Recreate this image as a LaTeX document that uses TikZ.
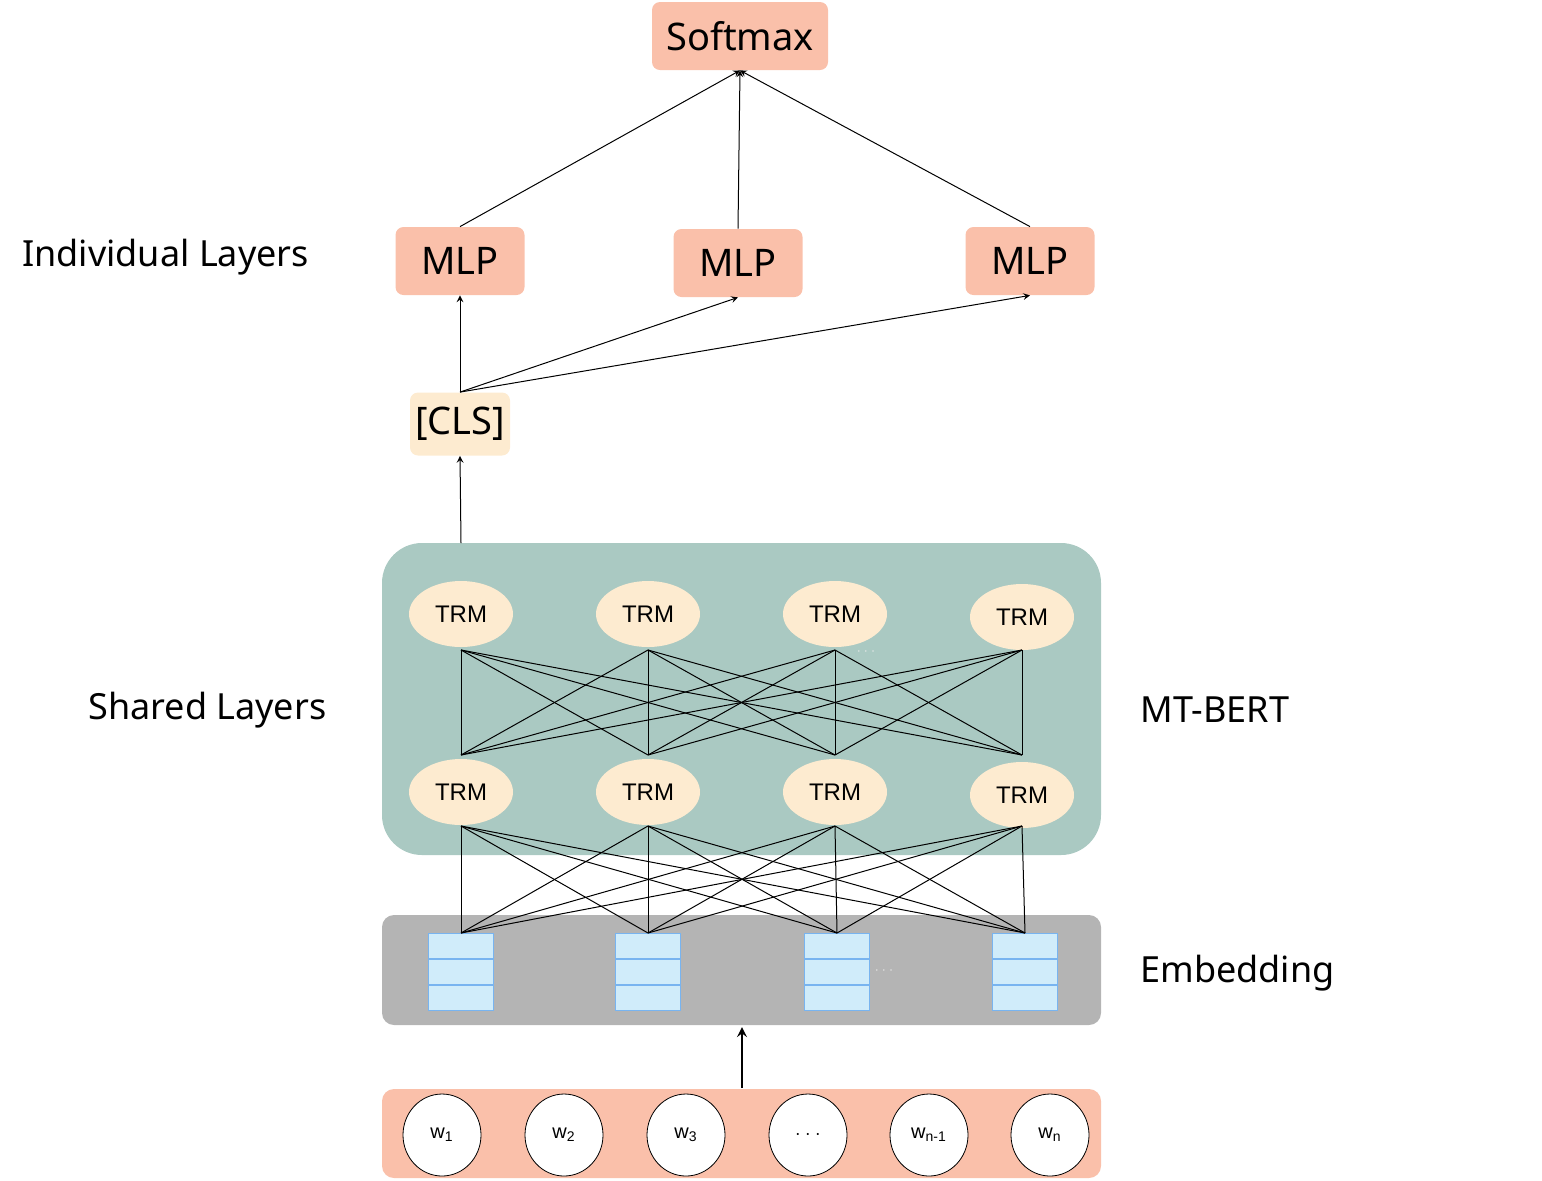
\documentclass[tikz,border=0pt]{standalone}
\usepackage{fontspec}
\setmainfont{Noto Sans}
\setsansfont{Liberation Sans}
\usetikzlibrary{positioning, arrows, shapes.geometric}
\definecolor{salmon}{RGB}{250,192,170}
\definecolor{cream}{RGB}{253,235,208}
\definecolor{teal}{RGB}{170,201,194}
\definecolor{embgray}{RGB}{180,180,180}
\definecolor{cellfill}{RGB}{208,236,250}
\definecolor{celldraw}{RGB}{120,180,240}

\begin{document}
\begin{tikzpicture}[
        x=0.5pt,
        y=-0.5pt,
        >=stealth,
        every node/.style={inner sep=0pt},
        box/.style={fill=salmon, rounded corners=4pt, font=\fontsize{19}{20}\selectfont},
        trm/.style={ellipse, fill=cream, minimum width=52pt, minimum height=33pt, font=\sffamily\fontsize{12}{12}\selectfont},
        word/.style={ellipse, draw, fill=white, minimum width=39pt, minimum height=41pt, font=\sffamily\fontsize{10}{10}\selectfont},
        cell/.style={draw=celldraw, fill=cellfill, minimum width=32.5pt, minimum height=12.8pt},
        side/.style={anchor=west, font=\fontsize{18}{20}\selectfont},
        dots/.style={text=white!85!gray, font=\fontsize{6}{6}\selectfont}
    ]
    \useasboundingbox (0,0) rectangle (1542,1180);

    % backgrounds
    \fill[teal, rounded corners=20pt] (382,543) rectangle (1101,855);
    \fill[embgray, rounded corners=6pt] (382,915) rectangle (1101,1025);
    \fill[salmon, rounded corners=6pt] (382,1089) rectangle (1101,1178);

    % top part
    \node[box, minimum width=88pt, minimum height=34pt] (softmax) at (740,36) {Softmax};
    \node[box, minimum width=64.5pt, minimum height=34pt] (mlp1) at (460,261) {MLP};
    \node[box, minimum width=64.5pt, minimum height=34pt] (mlp2) at (738,263) {MLP};
    \node[box, minimum width=64.5pt, minimum height=34pt] (mlp3) at (1030,261) {MLP};
    \node[box, fill=cream, minimum width=50pt, minimum height=31.5pt] (cls) at (460,424) {[CLS]};

    \node[side] (indiv) at (22,257) {Individual Layers};
    \node[side] (shared) at (88,710) {Shared Layers};
    \node[side] (mtbert) at (1140,710) {MT-BERT};
    \node[side] (embed) at (1140,973) {Embedding};

    % transformer layers
    \foreach \i/\x/\d in {1/461/0,2/648/0,3/835/0,4/1022/3} {
        \node[trm] (top\i) at (\x,614+\d) {TRM};
        \node[trm] (bot\i) at (\x,792+\d) {TRM};
        \coordinate (ta\i) at (\x,650);
        \coordinate (tb\i) at (\x,755);
        \coordinate (ba\i) at (\x,826);
    }
    \node[dots] (dotsa) at (866,652) {$\cdots$};

    % embedding columns
    \foreach \i/\x in {1/461,2/648,3/837,4/1025} {
        \node[cell] (c\i a) at (\x,946) {};
        \node[cell] (c\i b) at (\x,972) {};
        \node[cell] (c\i c) at (\x,998) {};
        \coordinate (ea\i) at (\x,933);
    }
    \node[dots] (dotsb) at (884,971) {$\cdots$};

    % connections
    \foreach \i in {1,...,4} {
        \foreach \j in {1,...,4} {
            \draw[line width=0.5pt] (ta\i) -- (tb\j);
            \draw[line width=0.5pt] (ba\i) -- (ea\j);
        }
    }

    % words
    \foreach \i/\x/\t in {1/442/w\textsubscript{1},2/564/w\textsubscript{2},3/686/w\textsubscript{3},4/808/$\cdot\cdot\cdot$,5/929/w\textsubscript{n-1},6/1050/w\textsubscript{n}} {
        \node[word] (w\i) at (\x,1135) {\t};
    }

    % arrows
    \coordinate (inp) at (742,1088);
    \coordinate (embtop) at (742,1027);
    \draw[->, line width=1.2pt] (inp) -- (embtop);
    \coordinate (shtop) at (461,543);
    \draw[->, line width=0.5pt] (shtop) -- (cls.south);
    \draw[->, line width=0.5pt] (cls.north) -- (mlp1.south);
    \draw[->, line width=0.5pt] (cls.north) -- (mlp2.south);
    \draw[->, line width=0.5pt] (cls.north) -- (mlp3.south);
    \draw[->, line width=0.5pt] (mlp1.north) -- (softmax.south);
    \draw[->, line width=0.5pt] (mlp2.north) -- (softmax.south);
    \draw[->, line width=0.5pt] (mlp3.north) -- (softmax.south);
\end{tikzpicture}
\end{document}
